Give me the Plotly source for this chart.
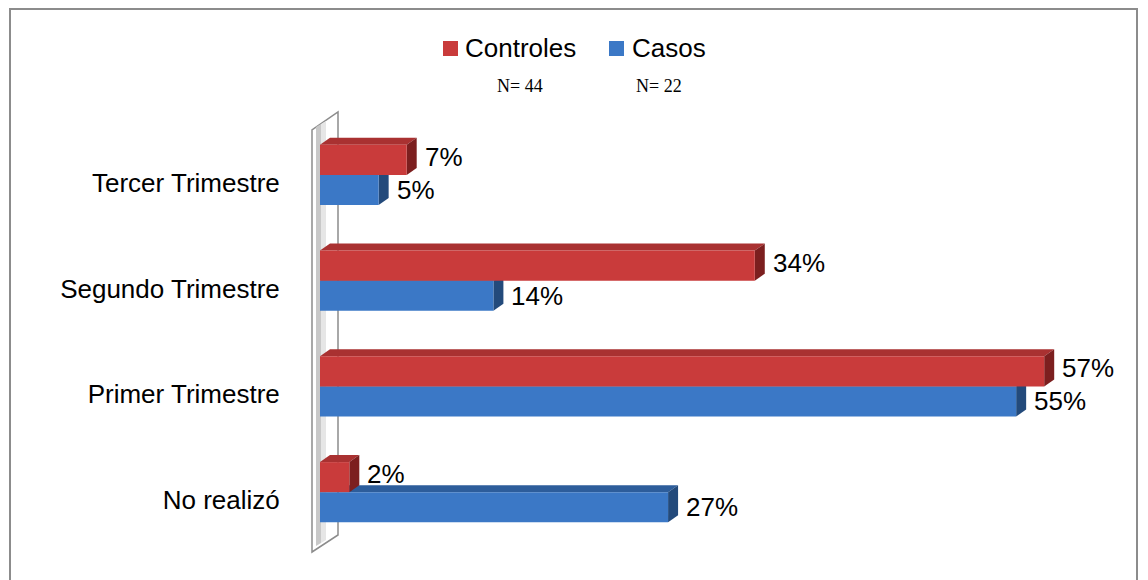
import plotly.graph_objects as go

categories = ["No realizó", "Primer Trimestre", "Segundo Trimestre", "Tercer Trimestre"]
series_names = ["Controles", "Casos"]
controles = [2.3, 56.8, 34.1, 6.8]
casos = [27.3, 54.6, 13.6, 4.6]
n_labels = ["N= 44", "N= 22"]

W, H = 1148, 580
ML, MR, MT, MB = 320, 48, 122, 35
PW, PH = W - ML - MR, H - MT - MB
PX_PER_UNIT = 12.75
X_MAX = PW / PX_PER_UNIT
BARGAP = 0.432
BW = (1 - BARGAP) / 2          # width of one bar, category units
DX = 10 / PX_PER_UNIT           # depth offset in x
DY = 7 / (PH / 4)               # depth offset in y
FONT = "Liberation Sans, Arial, sans-serif"

colors = {
    "Controles": dict(front="#c93b3b", top="#a93131", side="#7c1f1f"),
    "Casos": dict(front="#3b78c6", top="#2d5d9b", side="#234a7b"),
}


def px_x(px):
    return (px - ML) / PW


def px_y(py):
    return (H - MB - py) / PH


def box_faces(values, offset, col):
    # top and side faces of the pseudo 3D bars
    shapes = []
    for i, v in enumerate(values):
        y0 = i + offset
        y1 = y0 + BW
        shapes.append(dict(
            type="path", layer="below", xref="x", yref="y",
            path=f"M0,{y1} L{v},{y1} L{v + DX},{y1 + DY} L{DX},{y1 + DY} Z",
            fillcolor=col["top"], line=dict(width=0)))
        shapes.append(dict(
            type="path", layer="below", xref="x", yref="y",
            path=f"M{v},{y0} L{v},{y1} L{v + DX},{y1 + DY} L{v + DX},{y0 + DY} Z",
            fillcolor=col["side"], line=dict(width=0)))
    return shapes


fig = go.Figure()
fig.add_trace(go.Bar(
    y=categories, x=casos, orientation="h", name="Casos",
    marker=dict(color=colors["Casos"]["front"], line=dict(width=0)),
    showlegend=False, hoverinfo="x+y"))
fig.add_trace(go.Bar(
    y=categories, x=controles, orientation="h", name="Controles",
    marker=dict(color=colors["Controles"]["front"], line=dict(width=0)),
    showlegend=False, hoverinfo="x+y"))

shapes = []
# wall behind the bars
shapes.append(dict(
    type="path", xref="paper", yref="paper", layer="below",
    path=(f"M{px_x(312)},{px_y(552)} L{px_x(312)},{px_y(130)} "
          f"L{px_x(338)},{px_y(112)} L{px_x(338)},{px_y(535)} Z"),
    fillcolor="white", line=dict(color="#8c8c8c", width=1.5)))
shapes.append(dict(
    type="path", xref="paper", yref="paper", layer="below",
    path=(f"M{px_x(316)},{px_y(546)} L{px_x(316)},{px_y(127)} "
          f"L{px_x(321)},{px_y(124)} L{px_x(321)},{px_y(543)} Z"),
    fillcolor="#c8c8c8", line=dict(width=0)))
shapes.append(dict(
    type="path", xref="paper", yref="paper", layer="below",
    path=(f"M{px_x(321)},{px_y(543)} L{px_x(321)},{px_y(124)} "
          f"L{px_x(326)},{px_y(121)} L{px_x(326)},{px_y(540)} Z"),
    fillcolor="#e6e6e6", line=dict(width=0)))
shapes += box_faces(casos, -BW, colors["Casos"])
shapes += box_faces(controles, 0, colors["Controles"])
# outer chart border
shapes.append(dict(
    type="rect", xref="paper", yref="paper",
    x0=px_x(10), x1=px_x(1137), y0=px_y(590), y1=px_y(9),
    line=dict(color="#8c8c8c", width=2)))

# legend drawn by hand: square + name + N below
legend_sq = [(443, 458), (609, 624)]
legend_txt_x = [463, 630]
n_x = [520, 659]
annotations = []
for name, (a, b), tx, nx, nl in zip(series_names, legend_sq, legend_txt_x, n_x, n_labels):
    shapes.append(dict(
        type="rect", xref="paper", yref="paper",
        x0=px_x(a), x1=px_x(b), y0=px_y(56), y1=px_y(41),
        fillcolor=colors[name]["front"], line=dict(width=0)))
    annotations.append(dict(
        x=px_x(tx), y=px_y(48), xref="paper", yref="paper", text=name,
        showarrow=False, xanchor="left", yanchor="middle",
        font=dict(size=26, color="black")))
    annotations.append(dict(
        x=px_x(nx), y=px_y(86), xref="paper", yref="paper",
        text=nl, showarrow=False, xanchor="center", yanchor="middle",
        font=dict(family="Liberation Serif, Times New Roman, serif",
                  size=18, color="black")))

for series, offset, shift in ((casos, -BW / 2, 0), (controles, BW / 2, 3)):
    for i, v in enumerate(series):
        annotations.append(dict(
            x=v + DX, y=i + offset, xref="x", yref="y",
            text=f"{v:.0f}%", showarrow=False, xanchor="left", xshift=6,
            yshift=shift, font=dict(size=26, color="black")))

fig.update_layout(
    width=W, height=H,
    margin=dict(l=ML, r=MR, t=MT, b=MB),
    paper_bgcolor="white", plot_bgcolor="white",
    font=dict(family=FONT, size=26, color="black"),
    barmode="group", bargap=BARGAP, bargroupgap=0,
    showlegend=False,
    xaxis=dict(range=[0, X_MAX], visible=False, fixedrange=True),
    yaxis=dict(range=[-0.5, 3.5], showgrid=False, zeroline=False,
               showline=False, ticks="outside", ticklen=34,
               tickcolor="rgba(0,0,0,0)", ticklabelshift=8,
               tickfont=dict(size=26)),
    shapes=shapes,
    annotations=annotations,
)

fig.write_html("out.html", config={"displayModeBar": False},
               post_script="document.body.style.margin='0';")
